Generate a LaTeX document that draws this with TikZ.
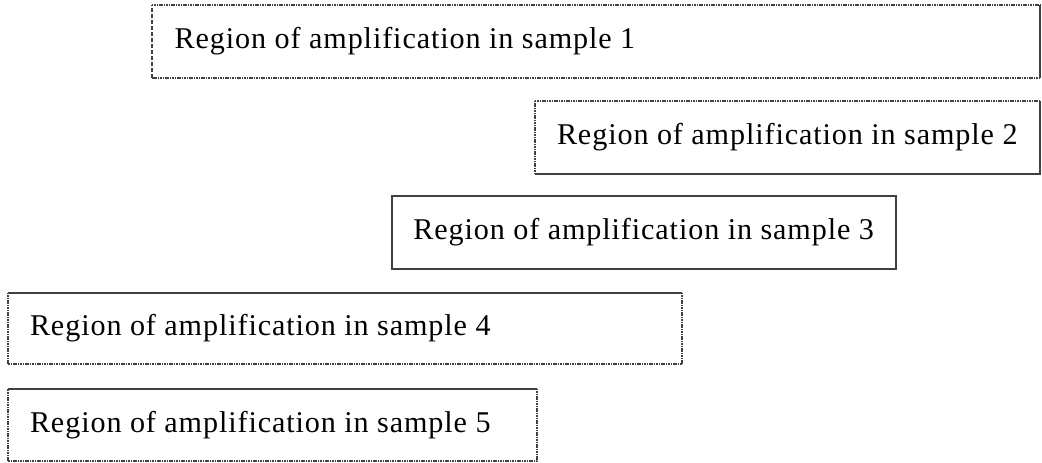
\documentclass[tikz,border=0pt]{standalone}
\usepackage{fontspec}
\setmainfont{Liberation Serif}[LetterSpace=3]
\usetikzlibrary{fit}
\begin{document}
\begin{tikzpicture}[x=0.75pt,y=-0.75pt,
  frame/.style={fit={#1}, inner sep=0pt},
  solidside/.style={draw=black!75, line width=1.4pt},
  dotside/.style={draw=black!75, line width=1.4pt, dash pattern=on 1.2pt off 0.6pt},
  dashside/.style={draw=black!75, line width=1.4pt, dash pattern=on 3pt off 1.5pt},
  label/.style={anchor=west, inner sep=0pt, font=\fontsize{22.6}{26}\selectfont}]
\useasboundingbox[fill=white] (0,0) rectangle (1042,462);
% box 1
\node[frame={(152,5) (1040,78)}] (b1) {};
\draw[dotside] (b1.north west) -- (b1.north east);
\draw[solidside] (b1.north east) -- (b1.south east);
\draw[dotside] (b1.south east) -- (b1.south west);
\draw[dashside] (b1.south west) -- (b1.north west);
\node[label] (t1) at ([xshift=17pt]b1.west) {Region of amplification in sample 1};
% box 2
\node[frame={(535,101) (1040,174)}] (b2) {};
\draw[dotside] (b2.north west) -- (b2.north east);
\draw[solidside] (b2.north east) -- (b2.south east) -- (b2.south west);
\draw[dotside] (b2.south west) -- (b2.north west);
\node[label] (t2) at ([xshift=16.5pt]b2.west) {Region of amplification in sample 2};
% box 3
\node[frame={(392,196) (896,269)}] (b3) {};
\draw[solidside] (b3.north west) rectangle (b3.south east);
\node[label] (t3) at ([xshift=16pt]b3.west) {Region of amplification in sample 3};
% box 4
\node[frame={(8,293) (682,364)}] (b4) {};
\draw[solidside] (b4.north west) -- (b4.north east);
\draw[dotside] (b4.north east) -- (b4.south east) -- (b4.south west) -- (b4.north west);
\node[label] (t4) at ([xshift=16.5pt]b4.west) {Region of amplification in sample 4};
% box 5
\node[frame={(8,389) (537,461)}] (b5) {};
\draw[solidside] (b5.north west) -- (b5.north east);
\draw[dotside] (b5.north east) -- (b5.south east) -- (b5.south west) -- (b5.north west);
\node[label] (t5) at ([xshift=16.5pt]b5.west) {Region of amplification in sample 5};
\end{tikzpicture}
\end{document}
